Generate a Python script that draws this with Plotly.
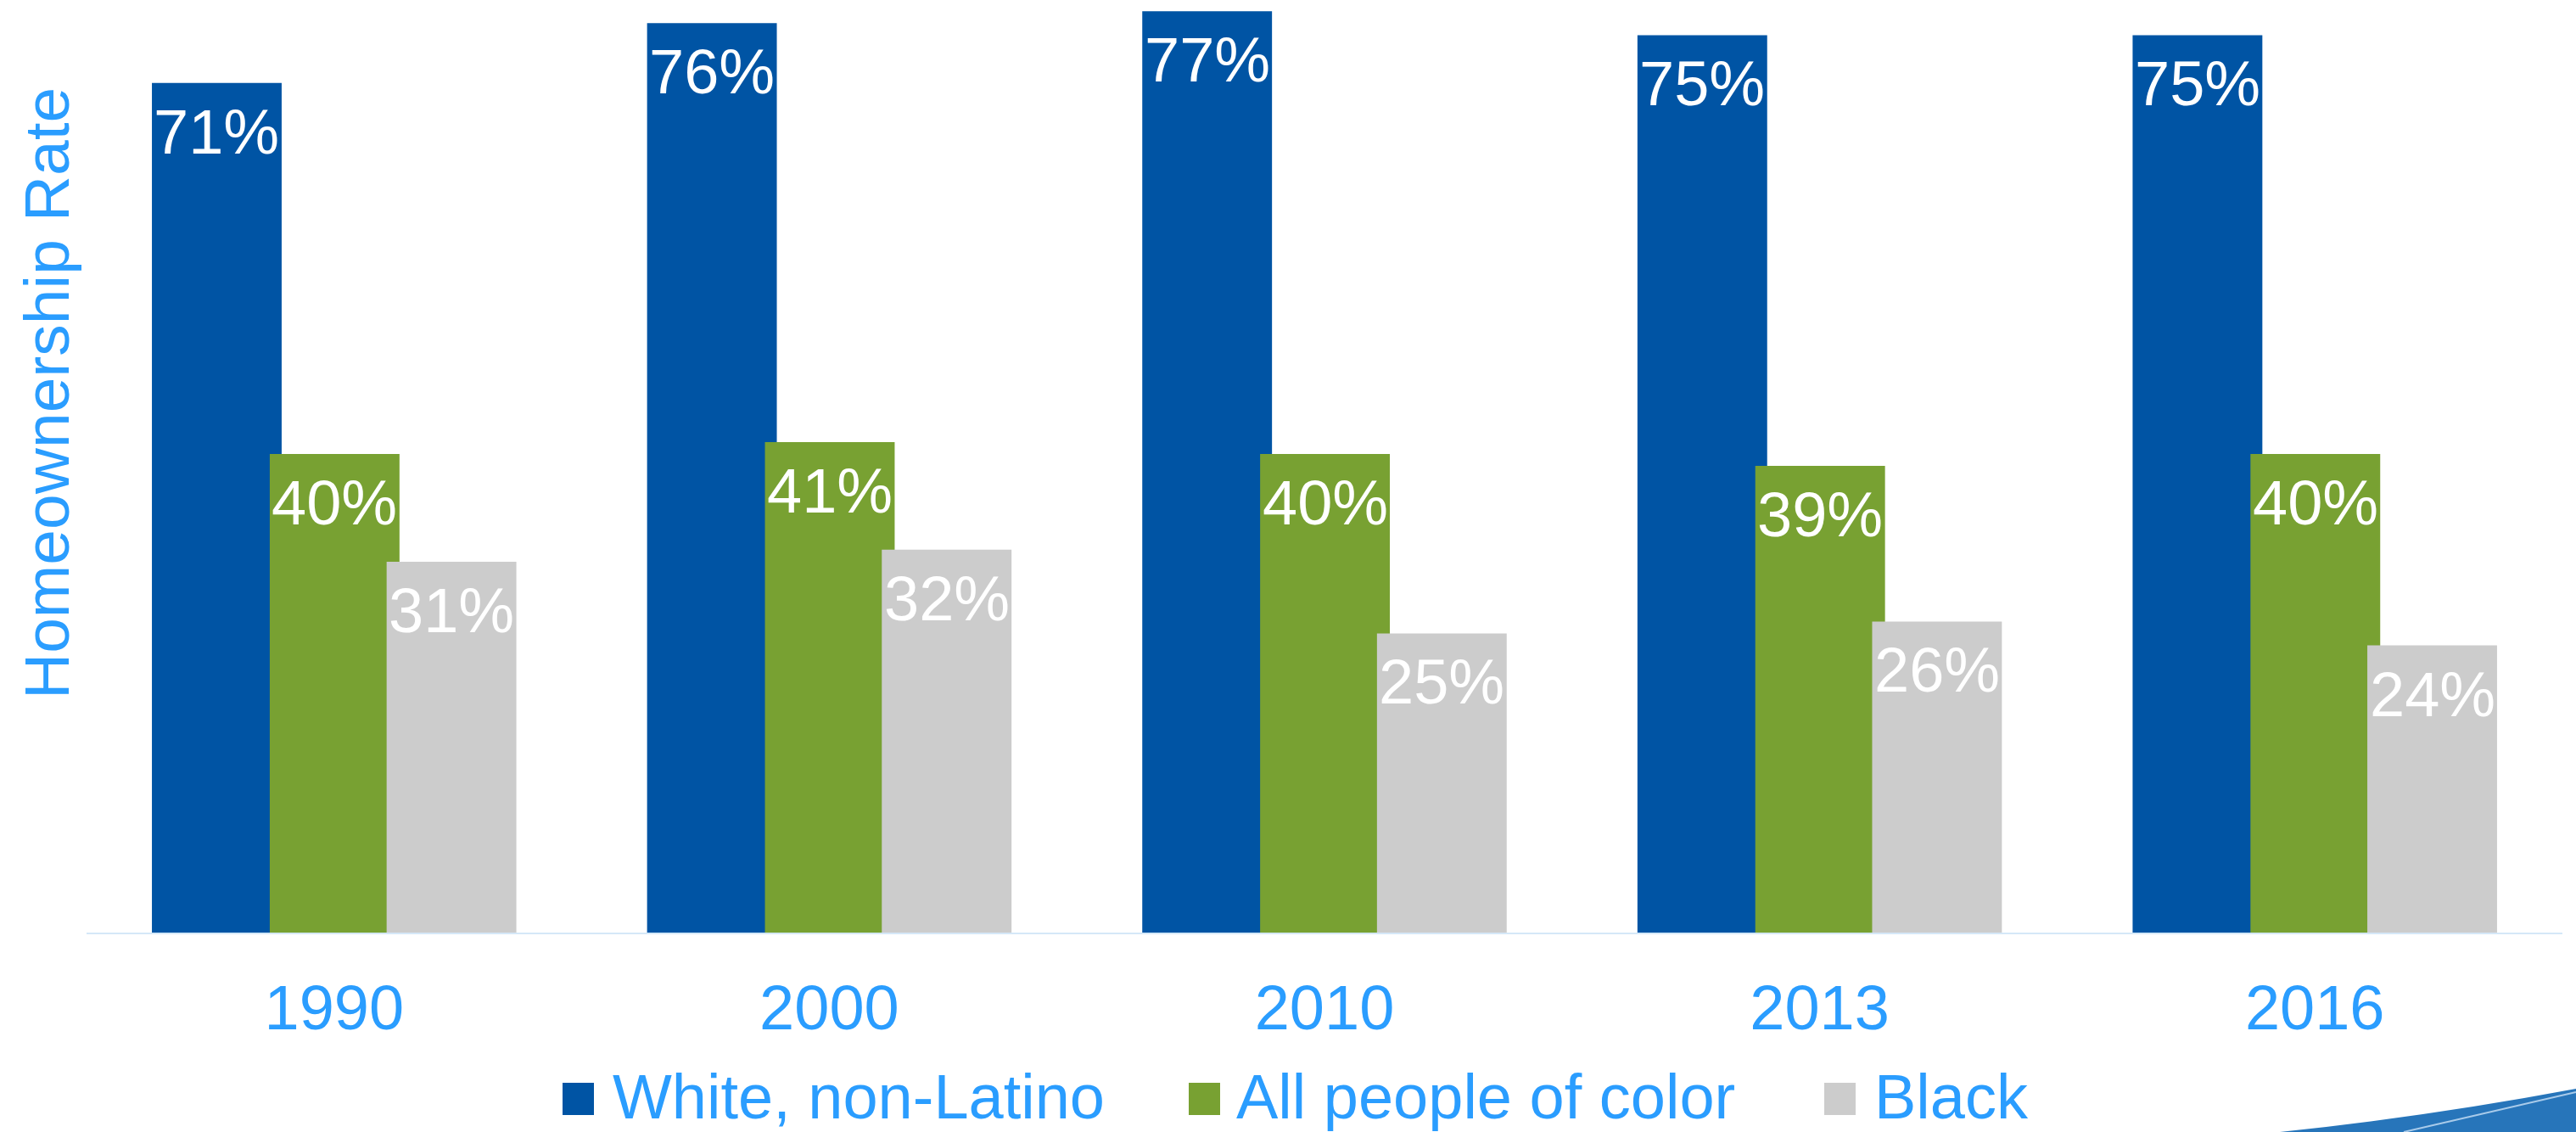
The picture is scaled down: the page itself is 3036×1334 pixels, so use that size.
import plotly.graph_objects as go

# Homeownership rate by group, per year
years = ["1990", "2000", "2010", "2013", "2016"]
series_names = ["White, non-Latino", "All people of color", "Black"]
white_non_latino = [0.71, 0.76, 0.77, 0.75, 0.75]
people_of_color = [0.40, 0.41, 0.40, 0.39, 0.40]
black = [0.31, 0.32, 0.25, 0.26, 0.24]
axis_title = "Homeownership Rate"

series_values = [white_non_latino, people_of_color, black]
colors = ["#0054A4", "#78A132", "#CCCCCC"]
offsets = [-0.368, -0.130, 0.106]
bar_width = 0.262

TEXT_BLUE = "#2A9DFF"
FONT = "Liberation Sans, Arial, sans-serif"

W, H = 3036, 1334
L, R, T, B = 102, 16, 0, 235
PW, PH = W - L - R, H - T - B


def px_x(px):
    return (px - L) / PW


def px_y(py):
    return (H - B - py) / PH


fig = go.Figure()
annotations = []
for name, vals, color, off in zip(series_names, series_values, colors, offsets):
    fig.add_trace(go.Bar(
        x=years, y=vals, name=name,
        marker=dict(color=color, line=dict(width=0)),
        width=bar_width, offset=off,
        hovertemplate="%{x}: %{y:.0%}<extra>" + name + "</extra>",
        showlegend=False,
    ))
    # value label just inside the top of each bar (x in category index units)
    for i, v in enumerate(vals):
        annotations.append(dict(
            x=i + off + bar_width / 2, y=v, xref="x", yref="y", text=f"{v:.0%}",
            xanchor="center", yanchor="top", yshift=-14,
            showarrow=False, font=dict(family=FONT, size=74, color="white"),
        ))

annotations.append(
    dict(text=axis_title, textangle=-90, x=px_x(55), y=px_y(464),
         xref="paper", yref="paper", xanchor="center", yanchor="middle",
         showarrow=False, font=dict(family=FONT, size=75, color=TEXT_BLUE)))
shapes = []

# legend: colour swatch followed by the series name
legend_swatch_x = [663, 1401, 2150]
legend_text_x = [720, 1455, 2207]
for name, color, sx, tx in zip(series_names, colors, legend_swatch_x, legend_text_x):
    shapes.append(dict(type="rect", xref="paper", yref="paper",
                       x0=px_x(sx), x1=px_x(sx + 37), y0=px_y(1314), y1=px_y(1276),
                       fillcolor=color, line=dict(width=0)))
    annotations.append(dict(text=name, x=px_x(tx), y=px_y(1292),
                            xref="paper", yref="paper", xanchor="left", yanchor="middle",
                            showarrow=False,
                            font=dict(family=FONT, size=74, color=TEXT_BLUE)))

# corner accent
shapes.append(dict(type="path", xref="paper", yref="paper", layer="above",
                   path=f"M {px_x(2687)},{px_y(1334)} "
                        f"Q {px_x(2860)},{px_y(1316)} {px_x(3036)},{px_y(1283)} "
                        f"L {px_x(3036)},{px_y(1334)} Z",
                   fillcolor="#2775BA", line=dict(width=0)))
shapes.append(dict(type="line", xref="paper", yref="paper", layer="above",
                   x0=px_x(2833), y0=px_y(1334), x1=px_x(3036), y1=px_y(1287),
                   line=dict(color="#A9CBEA", width=2)))

fig.update_layout(
    width=W, height=H,
    margin=dict(l=L, r=R, t=T, b=B),
    barmode="overlay",
    paper_bgcolor="white", plot_bgcolor="white",
    font=dict(family=FONT, color=TEXT_BLUE),
    xaxis=dict(type="category", categoryorder="array", categoryarray=years,
               range=[-0.5, len(years) - 0.5],
               showline=True, linecolor="#D5E8F8", linewidth=2,
               showgrid=False, ticks="", tickfont=dict(family=FONT, size=74, color=TEXT_BLUE),
               ticklabelstandoff=23, fixedrange=True),
    yaxis=dict(range=[0, 0.7794], visible=False, showgrid=False, zeroline=False,
               fixedrange=True),
    annotations=annotations,
    shapes=shapes,
)

fig.write_html("out.html")
